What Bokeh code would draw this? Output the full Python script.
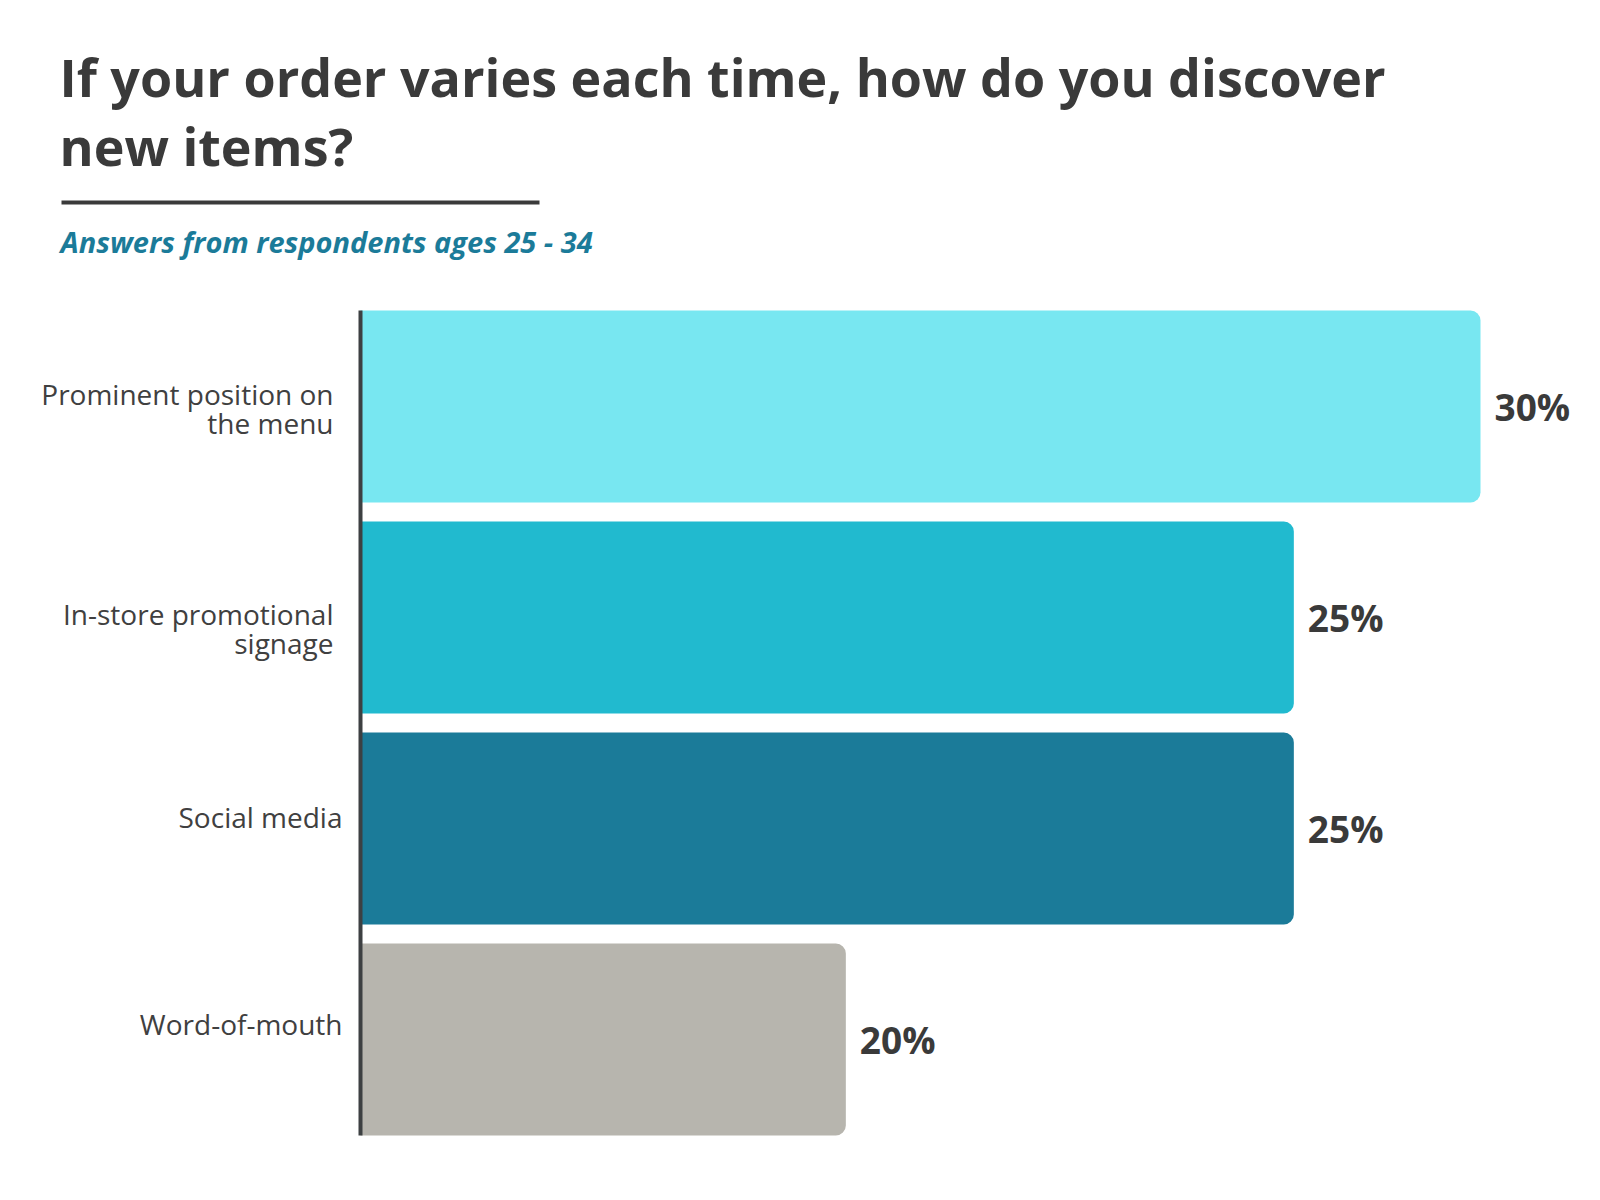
from bokeh.plotting import figure
from bokeh.models import Range1d, Label, BoxAnnotation, ColumnDataSource
from bokeh.core.properties import value
from bokeh.embed import file_html
from bokeh.resources import INLINE

categories = ["Prominent position on\nthe menu", "In-store promotional\nsignage", "Social media", "Word-of-mouth"]
bar_values = [30, 25, 25, 13]
value_labels = ["30%", "25%", "25%", "20%"]
colors = ["#78E7F1", "#21BACF", "#1B7B99", "#B7B5AE"]

# layout nudges (screen px, positive = down) for the category labels
label_dy = [2, 11, -12, -16]

W, H = 1600, 1200
px_per_unit = 1120 / 30.0
x0_px = 360
pitch = 211
first_center = 406

idx = list(range(len(categories)))
cat_dx = [-27 if "\n" in c else -18 for c in categories]
src = ColumnDataSource(dict(y=idx, v=bar_values, lab=value_labels, cat=categories, c=colors,
                            zero=[0] * len(idx), dx=cat_dx, dy=label_dy))

p = figure(width=W, height=H, output_backend="svg", toolbar_location=None,
           x_range=Range1d(-x0_px / px_per_unit, (W - x0_px) / px_per_unit),
           y_range=Range1d((H - first_center) / pitch, -first_center / pitch),
           x_axis_location=None, y_axis_location=None, min_border=0)
p.grid.visible = False
p.outline_line_color = None
p.background_fill_color = "white"
p.border_fill_color = "white"

p.hbar(y="y", left="zero", right="v", height=192 / pitch, fill_color="c", line_color=None,
       border_radius=(0, 10, 10, 0), source=src)

p.segment(x0=0, x1=0, y0=-0.5 * 192 / pitch, y1=len(idx) - 1 + 0.5 * 192 / pitch,
          line_color="#3d4042", line_width=4)

p.text(x="v", y="y", text="lab", source=src, x_offset=14, text_baseline="middle", text_align="left",
       text_font=value("Open Sans"), text_font_style="bold", text_font_size="37px", text_color="#3a3a3a")

p.text(x="zero", y="y", text="cat", source=src, x_offset="dx", y_offset="dy", text_baseline="middle",
       text_align="right", text_font=value("Open Sans"), text_font_size="28px", text_color="#404040",
       text_line_height=0.75)

title_lines = ["If your order varies each time, how do you discover", "new items?"]
for i, t in enumerate(title_lines):
    p.add_layout(Label(x=59, y=H - (76 + 69 * i), x_units="screen", y_units="screen", text=t,
                       text_font="Open Sans", text_font_style="bold", text_font_size="52px",
                       text_color="#3a3a3a", text_baseline="alphabetic"))

p.add_layout(BoxAnnotation(left=61, right=539, top=H - 200, bottom=H - 204, left_units="screen", right_units="screen",
                           top_units="screen", bottom_units="screen", fill_color="#3a3a3a", fill_alpha=1,
                           line_color=None))

p.add_layout(Label(x=60, y=H - 241, x_units="screen", y_units="screen", text="Answers from respondents ages 25 - 34",
                   text_font="Open Sans", text_font_style="bold italic", text_font_size="29px",
                   text_color="#1B7B99", text_baseline="alphabetic"))

open("out.html", "w").write(file_html(p, INLINE))
